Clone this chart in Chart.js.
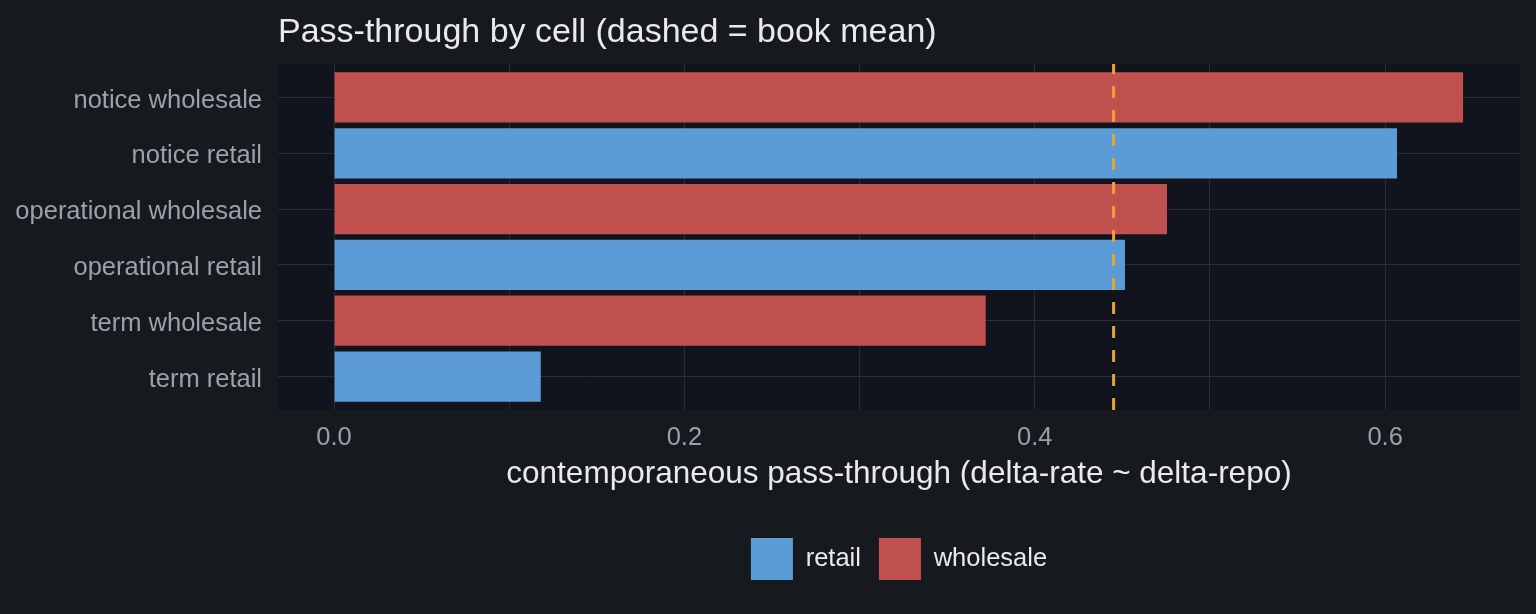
<!DOCTYPE html>
<html>
<head>
<meta charset="utf-8">
<script src="https://cdn.jsdelivr.net/npm/chart.js@4"></script>
<style>
	html, body { margin: 0; padding: 0; background: #16191e; }
	canvas { display: block; }
</style>
</head>
<body>
<canvas id="passChart" width="1536" height="614"></canvas>
<script>
// cells listed bottom to top, as they sit on the y axis
const cells = [
	"term retail",
	"term wholesale",
	"operational retail",
	"operational wholesale",
	"notice retail",
	"notice wholesale",
];
const passThrough = [0.118, 0.372, 0.4515, 0.4755, 0.6068, 0.6445];
const channel = ["retail", "wholesale", "retail", "wholesale", "retail", "wholesale"];
const channels = ["retail", "wholesale"];
const bookMean = 0.445;
const xTicks = [0, 0.1, 0.2, 0.3, 0.4, 0.5, 0.6];

const outerBg = "#16191e";
const panelBg = "#11141c";
const gridColor = "#2a2d35";
const channelColors = { retail: "#5b9bd6", wholesale: "#c0514f" };
const meanColor = "#eba434";
const fontFamily = "'Liberation Sans', Arial, sans-serif";

const datasets = channels.map((ch) => ({
	label: ch,
	data: cells
		.map((cell, i) => ({ x: passThrough[i], y: i, ch: channel[i] }))
		.filter((d) => d.ch === ch),
	backgroundColor: channelColors[ch],
	borderWidth: 0,
	grouped: false,
	barPercentage: 0.9,
	categoryPercentage: 1,
}));

const backgroundPlugin = {
	id: "panelBackground",
	beforeDraw(chart) {
		const { ctx, chartArea } = chart;
		ctx.save();
		ctx.fillStyle = outerBg;
		ctx.fillRect(0, 0, chart.width, chart.height);
		ctx.fillStyle = panelBg;
		ctx.fillRect(chartArea.left, chartArea.top, chartArea.right - chartArea.left, chartArea.bottom - chartArea.top);
		ctx.restore();
	},
};

const meanLinePlugin = {
	id: "meanLine",
	afterDatasetsDraw(chart) {
		const { ctx, chartArea, scales } = chart;
		const x = scales.x.getPixelForValue(bookMean);
		ctx.save();
		ctx.strokeStyle = meanColor;
		ctx.lineWidth = 3;
		ctx.setLineDash([12, 12]);
		ctx.beginPath();
		ctx.moveTo(x, chartArea.bottom);
		ctx.lineTo(x, chartArea.top);
		ctx.stroke();
		ctx.restore();
	},
};

new Chart(document.getElementById("passChart"), {
	type: "bar",
	data: { datasets: datasets },
	plugins: [backgroundPlugin, meanLinePlugin],
	options: {
		responsive: false,
		animation: false,
		indexAxis: "y",
		layout: { padding: { left: 0, right: 16, top: 0, bottom: 24 } },
		scales: {
			x: {
				type: "linear",
				min: -0.032,
				max: 0.677,
				offset: false,
				afterBuildTicks: (scale) => {
					scale.ticks = xTicks.map((v) => ({ value: v }));
				},
				afterFit: (scale) => {
					scale.height = 110;
				},
				ticks: {
					padding: 13,
					color: "#9ca1a9",
					font: { family: fontFamily, size: 25.5 },
					callback: (value, i) => (i % 2 === 0 ? xTicks[i].toFixed(1) : ""),
				},
				grid: { color: gridColor, lineWidth: 1, drawTicks: false, offset: false },
				border: { display: false },
				title: {
					display: true,
					text: "contemporaneous pass-through (delta-rate ~ delta-repo)",
					color: "#eaeaea",
					font: { family: fontFamily, size: 31.5 },
					padding: { top: 0, bottom: 27 },
				},
			},
			y: {
				type: "linear",
				min: -0.6,
				max: 5.6,
				offset: false,
				afterBuildTicks: (scale) => {
					scale.ticks = cells.map((c, i) => ({ value: i }));
				},
				afterFit: (scale) => {
					scale.width = 278;
				},
				ticks: {
					padding: 16,
					labelOffset: 3,
					color: "#9ca1a9",
					font: { family: fontFamily, size: 25.5 },
					callback: (value) => cells[value],
				},
				grid: { color: gridColor, lineWidth: 1, drawTicks: false, offset: false },
				border: { display: false },
			},
		},
		plugins: {
			title: {
				display: true,
				text: "Pass-through by cell (dashed = book mean)",
				align: "start",
				fullSize: false,
				color: "#eaeaea",
				font: { family: fontFamily, size: 34, weight: "normal" },
				padding: { top: 12, bottom: 11.2 },
			},
			legend: {
				position: "bottom",
				fullSize: false,
				labels: {
					boxWidth: 42,
					boxHeight: 42,
					padding: 18,
					color: "#eaeaea",
					font: { family: fontFamily, size: 25.5 },
				},
			},
			tooltip: { enabled: false },
		},
	},
});
</script>
</body>
</html>
